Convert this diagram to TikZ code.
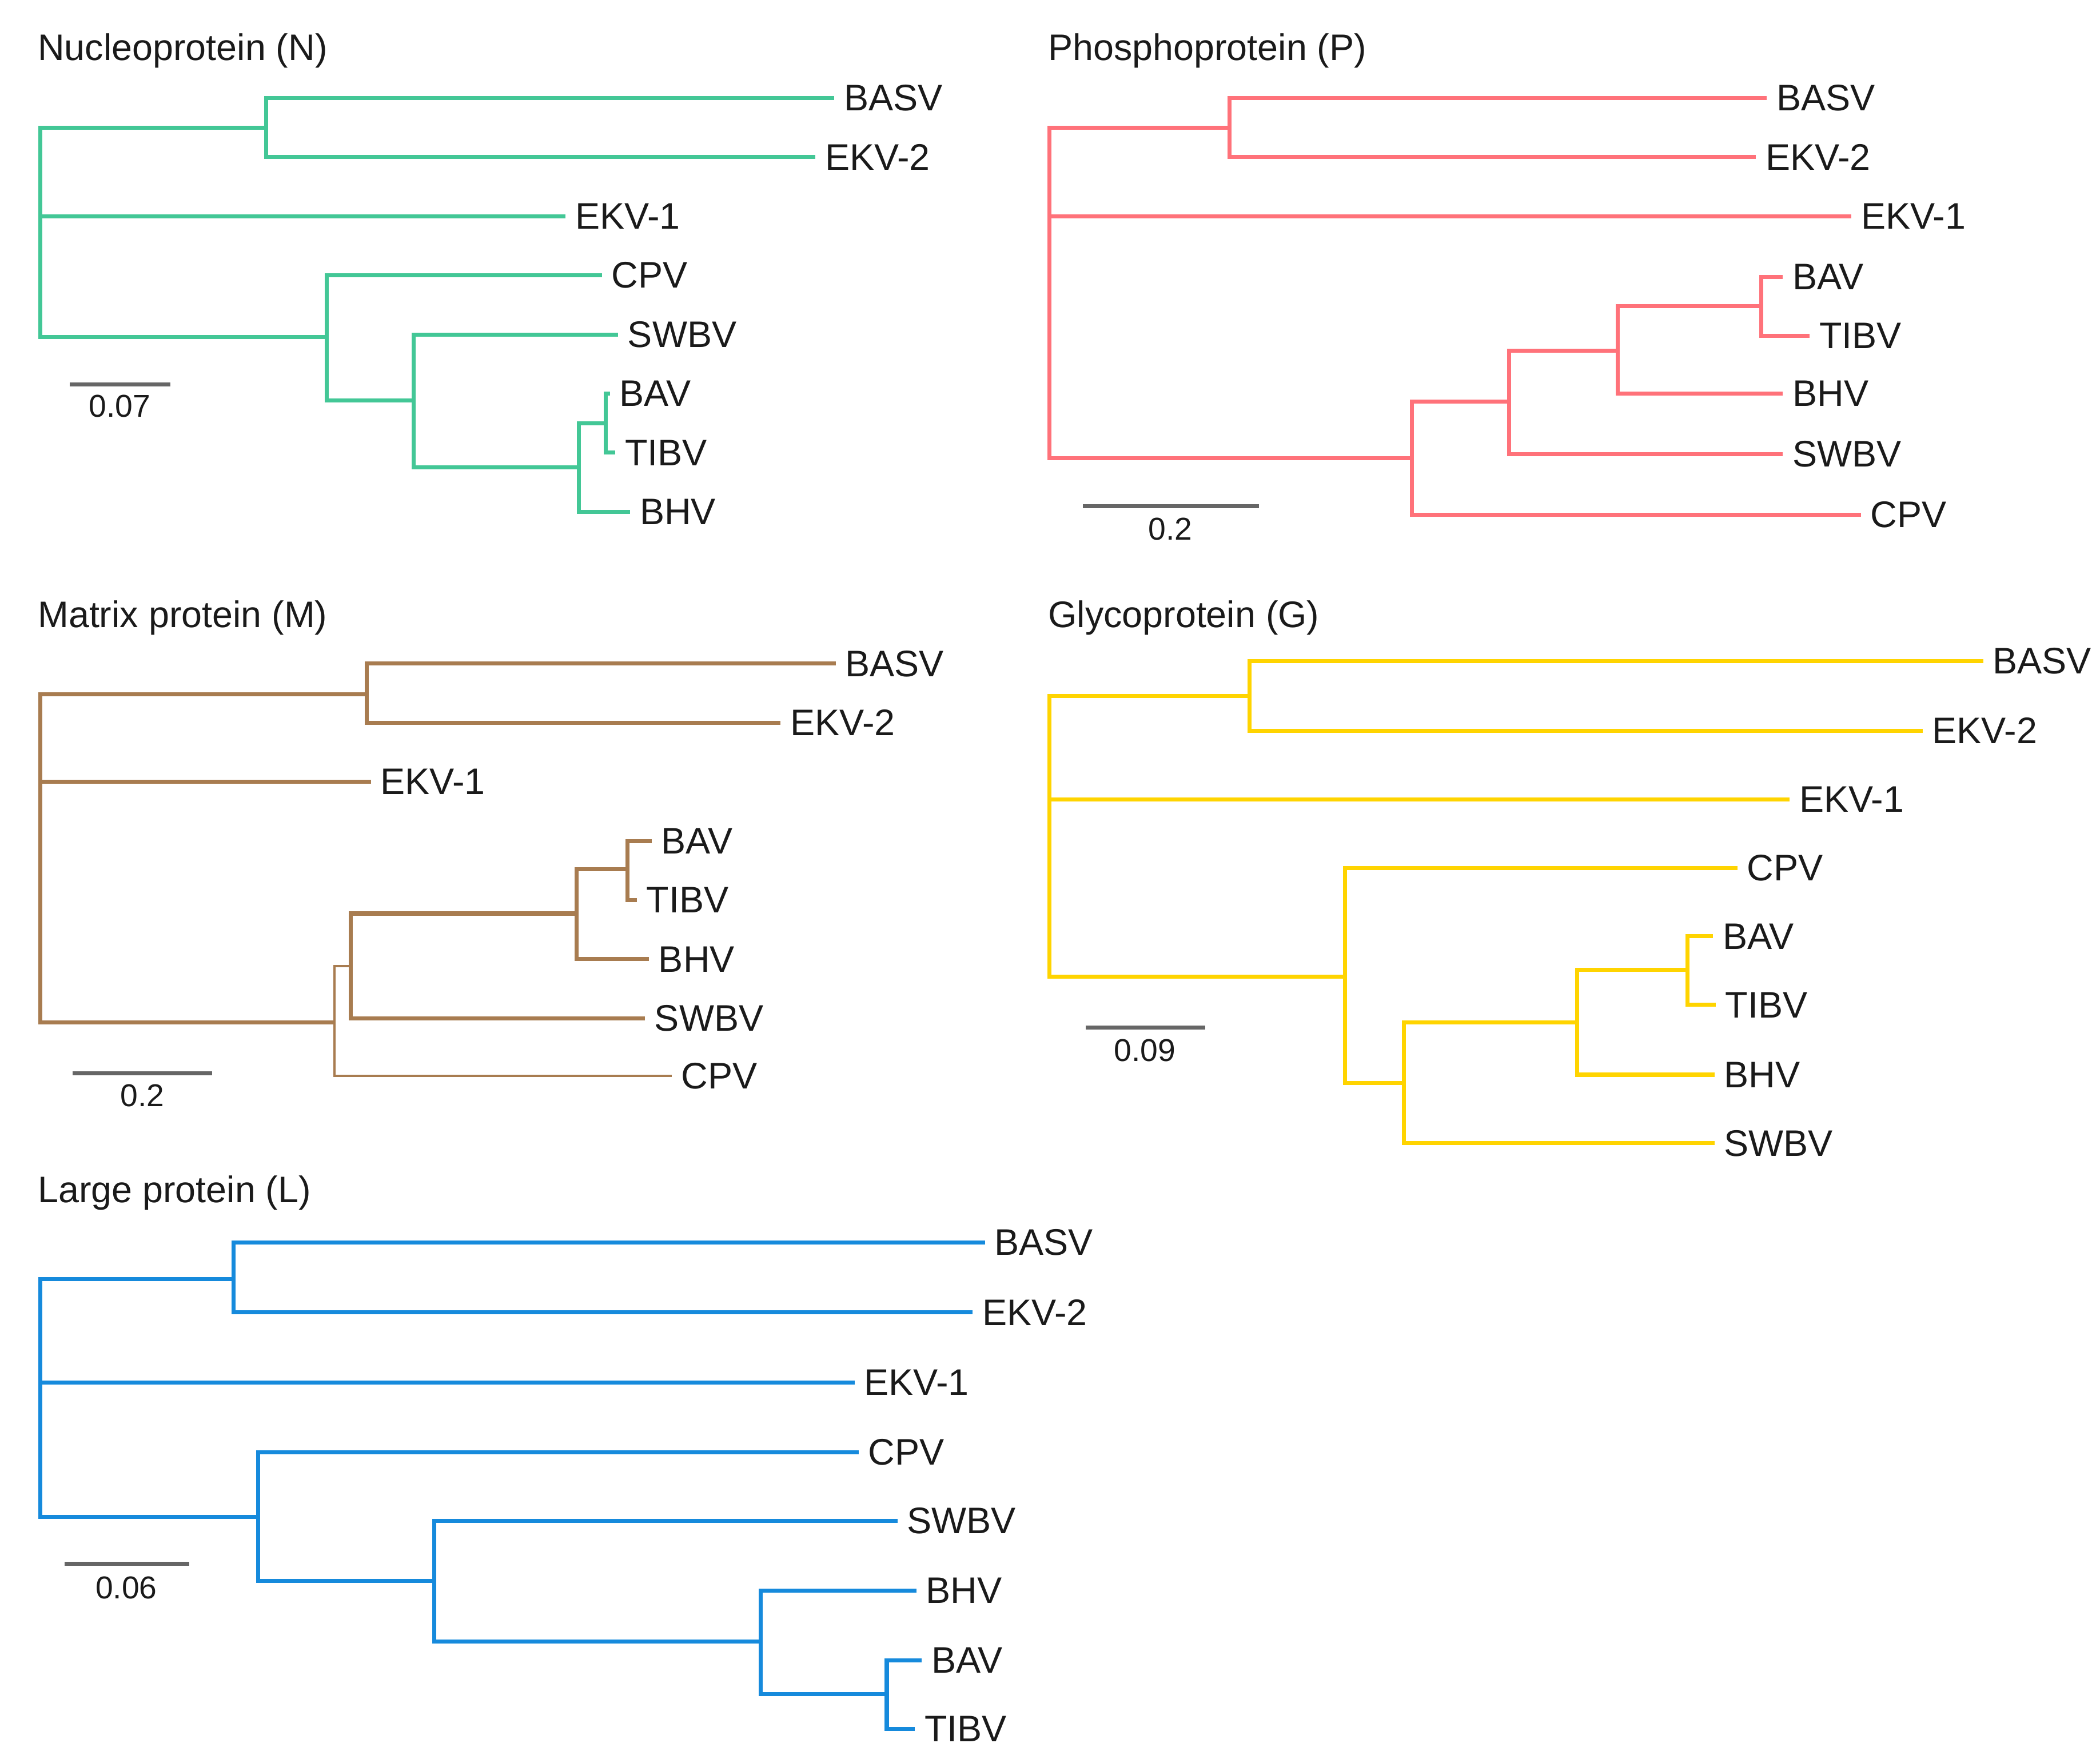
\documentclass[tikz,border=0pt]{standalone}
\usepackage{fontspec}
\setmainfont{Liberation Sans}
\definecolor{cN}{RGB}{67,199,150}
\definecolor{cP}{RGB}{255,114,122}
\definecolor{cM}{RGB}{168,124,80}
\definecolor{cG}{RGB}{255,212,0}
\definecolor{cL}{RGB}{22,138,220}
\definecolor{txt}{RGB}{26,26,26}
\definecolor{barc}{RGB}{102,102,102}
\tikzset{
 branch/.style={line width=3pt, line join=miter, line cap=butt},
 thinbranch/.style={line width=1.8pt, line join=miter, line cap=butt},
 lbl/.style={anchor=west, inner sep=0pt, text=txt, font=\fontsize{27.5}{33}\selectfont},
 ttl/.style={anchor=base west, inner sep=0pt, text=txt, font=\fontsize{27.5}{33}\selectfont},
 sclbl/.style={anchor=center, inner sep=0pt, text=txt, font=\fontsize{23.5}{28}\selectfont},
 scbar/.style={line width=3pt, draw=barc},
}
\newcommand{\tiplab}[4]{\coordinate (#1) at (#2,#3); \node[lbl] (#1-l) at (#2+7,#3) {#4};}
\begin{document}
\begin{tikzpicture}[x=1pt,y=-1pt]
\useasboundingbox (0,0) rectangle (1563,1303.4);

% ---------------- Nucleoprotein (N)
\node[ttl] (N-title) at (28,45) {Nucleoprotein (N)};
\coordinate (N0) at (30,161);
\coordinate (NA) at (198,95);
\coordinate (NB) at (243,251);
\coordinate (NC) at (308,298);
\coordinate (ND) at (431,348);
\coordinate (NE) at (451,315);
\tiplab{N-BASV}{621}{73}{BASV}
\tiplab{N-EKV2}{607}{117}{EKV-2}
\tiplab{N-EKV1}{421}{161}{EKV-1}
\tiplab{N-CPV}{448}{205}{CPV}
\tiplab{N-SWBV}{460}{249}{SWBV}
\tiplab{N-BAV}{454}{293}{BAV}
\tiplab{N-TIBV}{458}{337}{TIBV}
\tiplab{N-BHV}{469}{381}{BHV}
\begin{scope}[branch, draw=cN]
\draw (N0) |- (NA);
\draw (NA) |- (N-BASV);
\draw (NA) |- (N-EKV2);
\draw (N0) -- (N-EKV1);
\draw (N0) |- (NB);
\draw (NB) |- (N-CPV);
\draw (NB) |- (NC);
\draw (NC) |- (N-SWBV);
\draw (NC) |- (ND);
\draw (ND) |- (NE);
\draw (ND) |- (N-BHV);
\draw (NE) |- (N-BAV);
\draw (NE) |- (N-TIBV);
\end{scope}
\coordinate (N-s1) at (52,286);
\coordinate (N-s2) at (127,286);
\draw[scbar] (N-s1) -- (N-s2);
\node[sclbl] (N-sl) at (89,302.5) {0.07};

% ---------------- Phosphoprotein (P)
\node[ttl] (P-title) at (780,45) {Phosphoprotein (P)};
\coordinate (P0) at (781,161);
\coordinate (PA) at (915,95);
\coordinate (PB) at (1051,341);
\coordinate (PC) at (1123,299);
\coordinate (PD) at (1204,261);
\coordinate (PE) at (1311,228);
\tiplab{P-BASV}{1315}{73}{BASV}
\tiplab{P-EKV2}{1307}{117}{EKV-2}
\tiplab{P-EKV1}{1378}{161}{EKV-1}
\tiplab{P-BAV}{1327}{206}{BAV}
\tiplab{P-TIBV}{1347}{250}{TIBV}
\tiplab{P-BHV}{1327}{293}{BHV}
\tiplab{P-SWBV}{1327}{338}{SWBV}
\tiplab{P-CPV}{1385}{383}{CPV}
\begin{scope}[branch, draw=cP]
\draw (P0) |- (PA);
\draw (PA) |- (P-BASV);
\draw (PA) |- (P-EKV2);
\draw (P0) -- (P-EKV1);
\draw (P0) |- (PB);
\draw (PB) |- (PC);
\draw (PB) |- (P-CPV);
\draw (PC) |- (PD);
\draw (PC) |- (P-SWBV);
\draw (PD) |- (PE);
\draw (PD) |- (P-BHV);
\draw (PE) |- (P-BAV);
\draw (PE) |- (P-TIBV);
\end{scope}
\coordinate (P-s1) at (806,377);
\coordinate (P-s2) at (937,377);
\draw[scbar] (P-s1) -- (P-s2);
\node[sclbl] (P-sl) at (871,394) {0.2};

% ---------------- Matrix protein (M)
\node[ttl] (M-title) at (28,467) {Matrix protein (M)};
\coordinate (M0) at (30,582);
\coordinate (MA) at (273,517);
\coordinate (MB) at (249,761);
\coordinate (MC) at (261,719);
\coordinate (MD) at (429,680);
\coordinate (ME) at (467,647);
\tiplab{M-BASV}{622}{494}{BASV}
\tiplab{M-EKV2}{581}{538}{EKV-2}
\tiplab{M-EKV1}{276}{582}{EKV-1}
\tiplab{M-BAV}{485}{626}{BAV}
\tiplab{M-TIBV}{474}{670}{TIBV}
\tiplab{M-BHV}{483}{714}{BHV}
\tiplab{M-SWBV}{480}{758}{SWBV}
\tiplab{M-CPV}{500}{801}{CPV}
\begin{scope}[branch, draw=cM]
\draw (M0) |- (MA);
\draw (MA) |- (M-BASV);
\draw (MA) |- (M-EKV2);
\draw (M0) -- (M-EKV1);
\draw (M0) |- (MB);
\draw[thinbranch] (MB) |- (MC);
\draw[thinbranch] (MB) |- (M-CPV);
\draw (MC) |- (MD);
\draw (MC) |- (M-SWBV);
\draw (MD) |- (ME);
\draw (MD) |- (M-BHV);
\draw (ME) |- (M-BAV);
\draw (ME) |- (M-TIBV);
\end{scope}
\coordinate (M-s1) at (54,799);
\coordinate (M-s2) at (158,799);
\draw[scbar] (M-s1) -- (M-s2);
\node[sclbl] (M-sl) at (106,815.5) {0.2};

% ---------------- Glycoprotein (G)
\node[ttl] (G-title) at (780,467) {Glycoprotein (G)};
\coordinate (G0) at (781,595);
\coordinate (GA) at (930,518);
\coordinate (GB) at (1001,727);
\coordinate (GC) at (1045,806);
\coordinate (GD) at (1174,761);
\coordinate (GE) at (1256,722);
\tiplab{G-BASV}{1476}{492}{BASV}
\tiplab{G-EKV2}{1431}{544}{EKV-2}
\tiplab{G-EKV1}{1332}{595}{EKV-1}
\tiplab{G-CPV}{1293}{646}{CPV}
\tiplab{G-BAV}{1275}{697}{BAV}
\tiplab{G-TIBV}{1277}{748}{TIBV}
\tiplab{G-BHV}{1276}{800}{BHV}
\tiplab{G-SWBV}{1276}{851}{SWBV}
\begin{scope}[branch, draw=cG]
\draw (G0) |- (GA);
\draw (GA) |- (G-BASV);
\draw (GA) |- (G-EKV2);
\draw (G0) -- (G-EKV1);
\draw (G0) |- (GB);
\draw (GB) |- (G-CPV);
\draw (GB) |- (GC);
\draw (GC) |- (GD);
\draw (GC) |- (G-SWBV);
\draw (GD) |- (GE);
\draw (GD) |- (G-BHV);
\draw (GE) |- (G-BAV);
\draw (GE) |- (G-TIBV);
\end{scope}
\coordinate (G-s1) at (808,765);
\coordinate (G-s2) at (897,765);
\draw[scbar] (G-s1) -- (G-s2);
\node[sclbl] (G-sl) at (852,782) {0.09};

% ---------------- Large protein (L)
\node[ttl] (L-title) at (28,895) {Large protein (L)};
\coordinate (L0) at (30,1029);
\coordinate (LA) at (174,952);
\coordinate (LB) at (192,1129);
\coordinate (LC) at (323,1177);
\coordinate (LD) at (566,1222);
\coordinate (LE) at (660,1261);
\tiplab{L-BASV}{733}{925}{BASV}
\tiplab{L-EKV2}{724}{977}{EKV-2}
\tiplab{L-EKV1}{636}{1029}{EKV-1}
\tiplab{L-CPV}{639}{1081}{CPV}
\tiplab{L-SWBV}{668}{1132}{SWBV}
\tiplab{L-BHV}{682}{1184}{BHV}
\tiplab{L-BAV}{686}{1236}{BAV}
\tiplab{L-TIBV}{681}{1287}{TIBV}
\begin{scope}[branch, draw=cL]
\draw (L0) |- (LA);
\draw (LA) |- (L-BASV);
\draw (LA) |- (L-EKV2);
\draw (L0) -- (L-EKV1);
\draw (L0) |- (LB);
\draw (LB) |- (L-CPV);
\draw (LB) |- (LC);
\draw (LC) |- (L-SWBV);
\draw (LC) |- (LD);
\draw (LD) |- (L-BHV);
\draw (LD) |- (LE);
\draw (LE) |- (L-BAV);
\draw (LE) |- (L-TIBV);
\end{scope}
\coordinate (L-s1) at (48,1164);
\coordinate (L-s2) at (141,1164);
\draw[scbar] (L-s1) -- (L-s2);
\node[sclbl] (L-sl) at (94,1182) {0.06};
\end{tikzpicture}
\end{document}
